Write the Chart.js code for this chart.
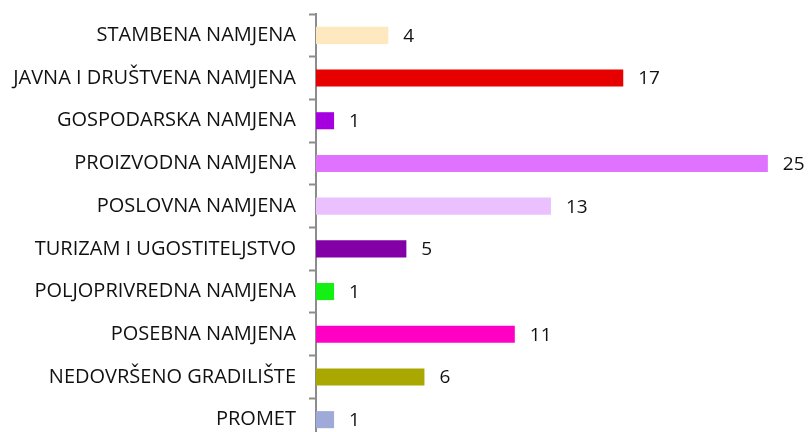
<!DOCTYPE html>
<html>
<head>
<meta charset="utf-8">
<script src="https://cdn.jsdelivr.net/npm/chart.js@4"></script>
<style>
  html, body { margin: 0; padding: 0; background: #fff; overflow: hidden; }
  #wrap { width: 810px; height: 460px; }
</style>
</head>
<body>
<div id="wrap"><canvas id="chart"></canvas></div>
<script>
const categories = [
    'STAMBENA NAMJENA',
    'JAVNA I DRUŠTVENA NAMJENA',
    'GOSPODARSKA NAMJENA',
    'PROIZVODNA NAMJENA',
    'POSLOVNA NAMJENA',
    'TURIZAM I UGOSTITELJSTVO',
    'POLJOPRIVREDNA NAMJENA',
    'POSEBNA NAMJENA',
    'NEDOVRŠENO GRADILIŠTE',
    'PROMET'
];
const counts = [4, 17, 1, 25, 13, 5, 1, 11, 6, 1];
const barColors = [
    '#fde8c0', '#e60000', '#a600e0', '#df73ff', '#ebc0ff',
    '#8200a6', '#14f014', '#ff00c4', '#aaa800', '#a0aad8'
];

const FONT = "'Open Sans', sans-serif";

// value labels to the right of each bar
const valueLabels = {
    id: 'valueLabels',
    afterDatasetsDraw(chart) {
        const ctx = chart.ctx;
        const meta = chart.getDatasetMeta(0);
        ctx.save();
        ctx.font = '19px ' + FONT;
        ctx.fillStyle = '#111';
        ctx.textAlign = 'left';
        ctx.textBaseline = 'middle';
        meta.data.forEach((bar, i) => {
            ctx.fillText(String(counts[i]), bar.x + 15, bar.y + 1);
        });
        ctx.restore();
    }
};

window.addEventListener('load', setup);

function setup() {
    const ctx = document.getElementById('chart').getContext('2d');
    new Chart(ctx, {
        type: 'bar',
        data: {
            labels: categories,
            datasets: [{
                data: counts,
                backgroundColor: barColors,
                borderWidth: 0,
                categoryPercentage: 0.4,
                barPercentage: 1.0
            }]
        },
        options: {
            indexAxis: 'y',
            responsive: true,
            maintainAspectRatio: false,
            animation: false,
            layout: { padding: { top: 14, bottom: 19, right: 6, left: 0 } },
            plugins: {
                legend: { display: false },
                tooltip: { enabled: false }
            },
            scales: {
                x: {
                    display: false,
                    min: 0,
                    max: 27
                },
                y: {
                    afterFit(scale) {
                        scale.width = 316;
                        scale.paddingTop = 0;
                        scale.paddingBottom = 0;
                    },
                    grid: {
                        drawOnChartArea: false,
                        tickLength: 7,
                        tickWidth: 2,
                        tickColor: '#8c8c8c'
                    },
                    border: { color: '#8c8c8c', width: 2 },
                    ticks: {
                        color: '#111',
                        padding: 13,
                        font: { family: FONT, size: 20 }
                    }
                }
            }
        },
        plugins: [valueLabels]
    });
}
</script>
</body>
</html>
